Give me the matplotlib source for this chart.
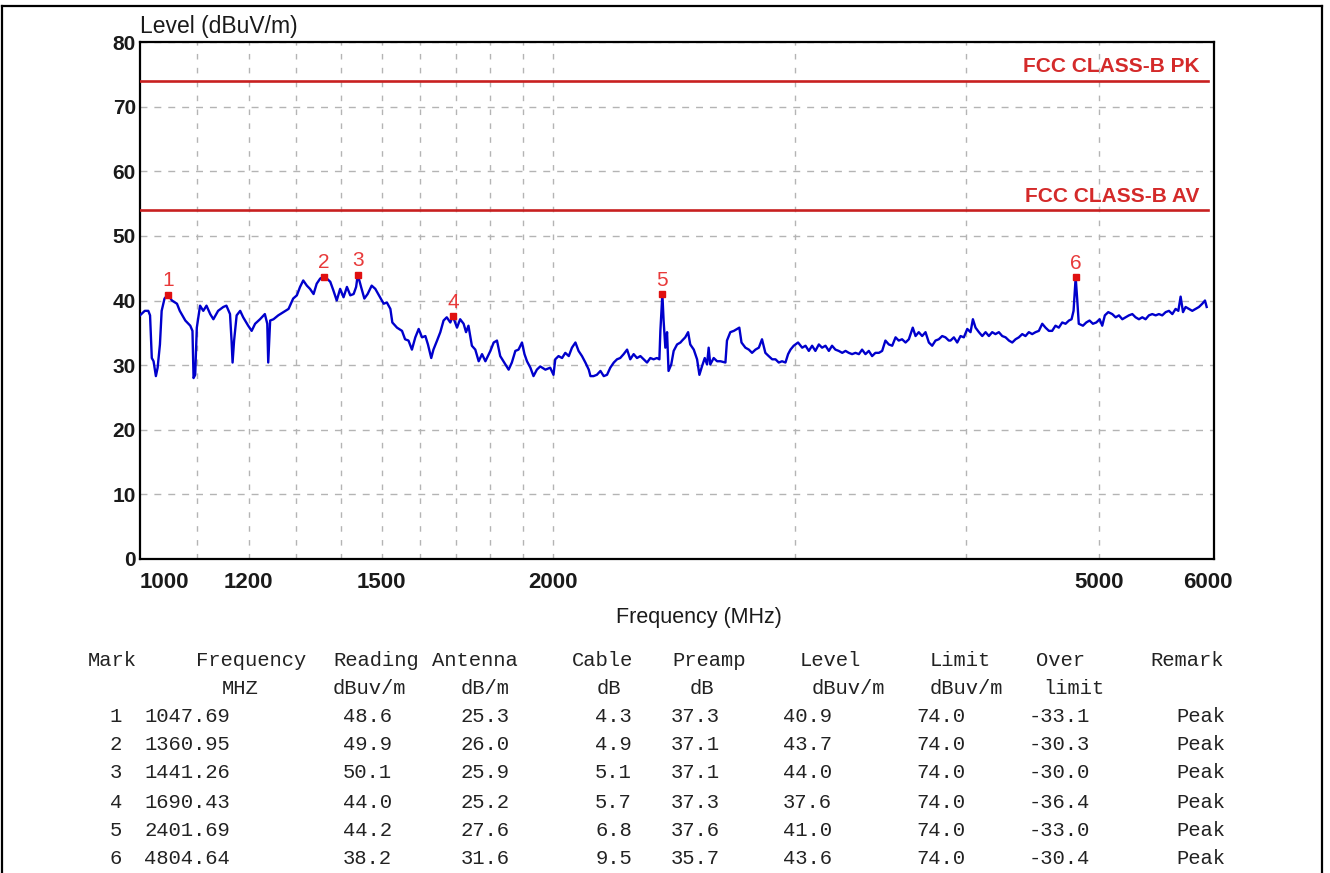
import matplotlib
matplotlib.use('Agg')
import matplotlib.pyplot as plt
from matplotlib.ticker import NullFormatter
from matplotlib.lines import Line2D

# ---------------- trace data ----------------
freq_mhz = [
    1000, 1008, 1014, 1017, 1020, 1023, 1027, 1030, 1034, 1037, 1042, 1048, 1055, 1064, 1069,
    1079, 1088, 1092, 1094, 1097, 1100, 1106, 1112, 1118, 1125, 1131, 1140, 1150, 1156, 1163,
    1166, 1168, 1171, 1176, 1183, 1189, 1199, 1206, 1213, 1223, 1233, 1238, 1240, 1244, 1251,
    1261, 1272, 1283, 1293, 1301, 1308, 1315, 1323, 1330, 1338, 1345, 1353, 1361, 1368, 1376,
    1383, 1391, 1399, 1407, 1415, 1423, 1431, 1437, 1441, 1449, 1457, 1465, 1475, 1484, 1496,
    1505, 1513, 1522, 1527, 1539, 1552,
    1560, 1569, 1578, 1587, 1596, 1605, 1614, 1621, 1630, 1636, 1646, 1655, 1664, 1673, 1683,
    1690, 1702, 1711, 1721, 1728, 1735, 1745, 1755, 1765, 1775, 1785, 1800, 1810, 1820, 1830,
    1840, 1856, 1866, 1877, 1887, 1898, 1906, 1914, 1925, 1935, 1946, 1957, 1974, 1990, 2001,
    2007, 2018, 2030, 2041, 2053, 2064, 2076, 2087, 2099, 2111, 2123, 2129, 2140, 2152, 2165,
    2177, 2189, 2201, 2214, 2226, 2238, 2251, 2264, 2276, 2289, 2302, 2315, 2328, 2341, 2354,
    2367, 2380, 2390, 2394, 2402, 2407, 2414, 2421, 2427, 2438, 2448, 2462, 2476,
    2483, 2496, 2508, 2517, 2532, 2546, 2556, 2567, 2579, 2589, 2596, 2603, 2618, 2633, 2648,
    2670, 2677, 2692, 2708, 2723, 2733, 2743, 2761, 2777, 2792, 2808, 2824, 2839, 2855, 2871,
    2888, 2904, 2920, 2936, 2953, 2966, 2978, 2994, 3016, 3037, 3054, 3071, 3088, 3105, 3123,
    3140, 3158, 3176, 3193, 3211, 3229, 3248, 3266, 3284, 3302, 3321, 3340, 3358, 3377, 3396,
    3415, 3434, 3454, 3473, 3492, 3512, 3532, 3552, 3571, 3591, 3612, 3632, 3656, 3673, 3693,
    3714, 3735, 3756, 3777, 3798, 3819, 3841, 3862, 3884,
    3895, 3917, 3939, 3961, 3983, 4006, 4028, 4044, 4062, 4085, 4108, 4131, 4154, 4177, 4200,
    4224, 4248, 4272, 4296, 4320, 4344, 4368, 4393, 4417, 4442, 4467, 4492, 4517, 4543, 4568,
    4594, 4619, 4645, 4671, 4698, 4724, 4751, 4772, 4788, 4799, 4805, 4818, 4830, 4864, 4891,
    4918, 4946, 4974, 5002, 5024, 5046, 5075, 5109, 5138, 5167, 5196, 5225, 5254, 5284, 5313,
    5343, 5373, 5403, 5433, 5464, 5495, 5525, 5556, 5588, 5619, 5651, 5682, 5708, 5730, 5753,
    5778, 5811, 5843, 5876, 5909, 5942, 5969, 5986,
]
level_dbuv = [
    37.7, 38.4, 38.4, 37.7, 31.1, 30.6, 28.3, 29.6, 33.2, 38.4, 40.3, 40.9, 40.0, 39.5, 38.4,
    36.9, 36.1, 35.3, 28.0, 28.5, 35.8, 39.2, 38.4, 39.2, 37.9, 37.1, 38.4, 39.0, 39.2, 37.9,
    33.8, 30.4, 33.8, 37.7, 38.4, 37.4, 36.1, 35.3, 36.4, 37.1, 37.9, 36.4, 30.4, 36.9, 37.1,
    37.7, 38.2, 38.7, 40.3, 40.8, 42.1, 43.1, 42.3, 41.8, 41.0, 42.6, 43.4, 43.7, 43.4, 42.9,
    41.6, 40.0, 41.8, 40.5, 42.1, 40.8, 41.0, 42.1, 44.0, 42.1, 40.3, 41.0, 42.3, 41.8, 40.5,
    39.5, 39.7, 38.7, 36.6, 35.8, 35.3,
    34.0, 33.8, 32.4, 34.3, 35.6, 34.3, 34.5, 33.2, 31.1, 32.4, 33.8, 35.1, 36.9, 37.4, 36.6,
    37.6, 35.8, 37.1, 36.4, 35.1, 36.1, 33.0, 32.4, 30.6, 31.7, 30.6, 32.2, 33.5, 33.8, 31.4,
    30.6, 29.3, 30.4, 32.2, 32.4, 33.5, 31.7, 30.6, 29.6, 28.3, 29.3, 29.8, 29.3, 29.6, 28.5,
    30.9, 31.4, 31.1, 31.9, 31.4, 32.7, 33.5, 32.2, 31.4, 30.4, 29.3, 28.3, 28.3, 28.5, 29.1,
    28.3, 28.5, 29.6, 30.4, 30.9, 31.1, 31.7, 32.4, 30.9, 31.7, 31.1, 31.4, 30.9, 30.4, 31.1,
    30.9, 31.1, 30.9, 35.3, 41.0, 36.9, 32.7, 35.1, 29.1, 30.1, 32.2, 33.2, 33.5,
    33.8, 34.3, 35.1, 33.2, 32.4, 30.9, 28.5, 29.8, 31.1, 30.1, 32.7, 30.1, 31.1, 30.6, 30.6,
    30.4, 33.8, 35.1, 35.3, 35.6, 35.8, 33.5, 32.7, 32.4, 31.9, 32.4, 32.7, 34.0, 31.9, 31.4,
    30.9, 30.9, 30.4, 30.6, 30.4, 31.7, 32.4, 33.0, 33.5, 32.7, 33.0, 32.2, 33.0, 32.2, 33.2,
    32.7, 33.0, 32.2, 33.0, 32.4, 32.2, 31.9, 32.2, 31.9, 31.7, 31.9, 31.7, 32.4, 31.7, 32.2,
    31.4, 31.9, 31.9, 32.2, 33.8, 33.2, 33.0, 34.3, 33.8, 34.0, 33.5, 34.0, 35.8, 34.5, 35.1,
    34.5, 35.1, 33.5, 33.0, 33.8, 34.0, 34.5, 34.3, 33.8,
    33.8, 34.3, 33.5, 34.5, 34.3, 35.6, 35.1, 37.1, 35.8, 35.1, 34.5, 35.1, 34.5, 35.1, 34.8,
    35.1, 34.5, 34.3, 33.8, 33.5, 34.0, 34.3, 34.8, 34.5, 35.1, 34.8, 35.1, 35.3, 36.4, 35.8,
    35.3, 35.3, 36.1, 35.8, 36.6, 36.4, 36.9, 37.1, 38.4, 41.6, 43.6, 40.0, 36.4, 36.1, 36.6,
    36.9, 36.4, 36.6, 37.1, 36.1, 37.7, 38.2, 37.9, 37.4, 37.7, 37.1, 37.4, 37.7, 37.9, 37.4,
    37.1, 37.4, 37.1, 37.7, 37.9, 37.7, 37.9, 37.7, 38.2, 38.4, 37.9, 38.7, 38.4, 40.6, 38.2,
    39.0, 38.7, 38.4, 38.7, 39.0, 39.5, 40.0, 39.0,
]

# ---------------- marker table ----------------
mark_no = [1, 2, 3, 4, 5, 6]
mark_freq = [1047.69, 1360.95, 1441.26, 1690.43, 2401.69, 4804.64]
reading = [48.6, 49.9, 50.1, 44.0, 44.2, 38.2]
antenna = [25.3, 26.0, 25.9, 25.2, 27.6, 31.6]
cable = [4.3, 4.9, 5.1, 5.7, 6.8, 9.5]
preamp = [37.3, 37.1, 37.1, 37.3, 37.6, 35.7]
mark_level = [40.9, 43.7, 44.0, 37.6, 41.0, 43.6]
limit = [74.0, 74.0, 74.0, 74.0, 74.0, 74.0]
over_limit = [-33.1, -30.3, -30.0, -36.4, -33.0, -30.4]
remark = ['Peak', 'Peak', 'Peak', 'Peak', 'Peak', 'Peak']

limit_values = [74, 54]
limit_labels = ['FCC CLASS-B PK', 'FCC CLASS-B AV']

x_label_ticks = [1000, 1200, 1500, 2000, 5000, 6000]
x_grid_ticks = [1100, 1200, 1300, 1400, 1500, 1600, 1700, 1800, 1900, 2000, 3000, 4000, 5000]
y_ticks = [0, 10, 20, 30, 40, 50, 60, 70, 80]

head1 = ['Mark', 'Frequency', 'Reading', 'Antenna', 'Cable', 'Preamp', 'Level', 'Limit', 'Over', 'Remark']
head2 = ['', 'MHZ', 'dBuv/m', 'dB/m', 'dB', 'dB', 'dBuv/m', 'dBuv/m', 'limit', '']

# ---------------- figure ----------------
W, H = 1330, 873
fig = plt.figure(figsize=(W / 100, H / 100), dpi=100)
fig.patch.set_facecolor('white')


def fx(px):
    return px / W


def fy(py):
    return 1 - py / H


ax = fig.add_axes([fx(140), fy(559), fx(1214) - fx(140), fy(42) - fy(559)])
ax.set_xscale('log')
ax.set_xlim(1000, 6060)
ax.set_ylim(0, 80)

sans = ['Liberation Sans', 'DejaVu Sans']
mono = ['Liberation Mono', 'DejaVu Sans Mono']

ax.xaxis.remove_overlapping_locs = False
ax.set_xticks(x_label_ticks)
ax.set_xticklabels([str(v) for v in x_label_ticks])
ax.set_xticks(x_grid_ticks, minor=True)
ax.xaxis.set_minor_formatter(NullFormatter())
ax.set_yticks(y_ticks)
ax.set_yticklabels([str(v) for v in y_ticks])

ax.tick_params(axis='both', which='both', length=0)
ax.tick_params(axis='x', which='major', pad=9, labelsize=16, labelcolor='#1a1a1a')
ax.tick_params(axis='y', which='major', pad=3, labelsize=15, labelcolor='#1a1a1a')
for lab in ax.get_xticklabels() + ax.get_yticklabels():
    lab.set_fontfamily(sans)
    lab.set_fontweight('bold')
ax.get_xticklabels()[0].set_horizontalalignment('left')

ax.grid(False, which='major', axis='x')
ax.grid(True, which='minor', axis='x', color='#b4b4b4', linestyle=(0, (4, 6)), linewidth=1)
ax.grid(True, which='major', axis='y', color='#b4b4b4', linestyle=(0, (5, 5)), linewidth=1)
ax.set_axisbelow(True)

for sp in ax.spines.values():
    sp.set_color('black')
    sp.set_linewidth(1.6)

# limit lines
for val, lab in zip(limit_values, limit_labels):
    ax.plot([1000, 6000], [val, val], color='#c82020', linewidth=1.9, zorder=3)
    ax.annotate(lab, xy=(6000, val), xytext=(-6, 6), textcoords='offset points',
                ha='right', va='baseline', fontsize=15, fontweight='bold',
                color='#d42a2a', family=sans, zorder=4)

# trace
ax.plot(freq_mhz, level_dbuv, color='#0000cc', linewidth=1.7, zorder=5)

# markers
ax.plot(mark_freq, mark_level, linestyle='none', marker='s', markersize=5,
        color='#e01010', zorder=6)
for n, f, l in zip(mark_no, mark_freq, mark_level):
    ax.annotate(str(n), xy=(f, l), xytext=(0, 6), textcoords='offset points',
                ha='center', va='baseline', fontsize=15, color='#e83a3a',
                family=sans, zorder=7)

# axis titles
fig.text(fx(140), fy(33), 'Level (dBuV/m)', fontsize=16.5, family=sans,
         ha='left', va='baseline', color='#1a1a1a')
fig.text(fx(699), fy(618), 'Frequency (MHz)', fontsize=15.5, family=sans,
         ha='center', va='center', color='#1a1a1a')

# ---------------- table ----------------
tcol = '#222222'
tsize = 14.8
head_x = [88, 196, 333, 432, 572, 672, 800, 930, 1036, 1150]
head2_x = [0, 222, 333, 461, 597, 690, 812, 930, 1043, 0]
row_right = [122, 230, 392, 510, 632, 720, 832, 965, 1090, 1225]
y_head1, y_head2 = 660, 688
row_y = [717, 745, 773, 802, 830, 858]

for t, x in zip(head1, head_x):
    fig.text(fx(x), fy(y_head1), t, fontsize=tsize, family=mono, color=tcol,
             ha='left', va='center')
for t, x in zip(head2, head2_x):
    if t:
        fig.text(fx(x), fy(y_head2), t, fontsize=tsize, family=mono, color=tcol,
                 ha='left', va='center')

for i in range(len(mark_no)):
    cells = [str(mark_no[i]), f'{mark_freq[i]:.2f}', f'{reading[i]:.1f}', f'{antenna[i]:.1f}',
             f'{cable[i]:.1f}', f'{preamp[i]:.1f}', f'{mark_level[i]:.1f}', f'{limit[i]:.1f}',
             f'{over_limit[i]:.1f}', remark[i]]
    for t, x in zip(cells, row_right):
        fig.text(fx(x), fy(row_y[i]), t, fontsize=tsize, family=mono, color=tcol,
                 ha='right', va='center')

# outer frame
lw = 1.6
fig.add_artist(Line2D([fx(2), fx(1322)], [fy(6), fy(6)], color='black', linewidth=lw,
                      transform=fig.transFigure))
fig.add_artist(Line2D([fx(2), fx(2)], [fy(6), fy(880)], color='black', linewidth=lw,
                      transform=fig.transFigure))
fig.add_artist(Line2D([fx(1322), fx(1322)], [fy(6), fy(880)], color='black', linewidth=lw,
                      transform=fig.transFigure))

fig.savefig('out.png', dpi=100, facecolor='white')
